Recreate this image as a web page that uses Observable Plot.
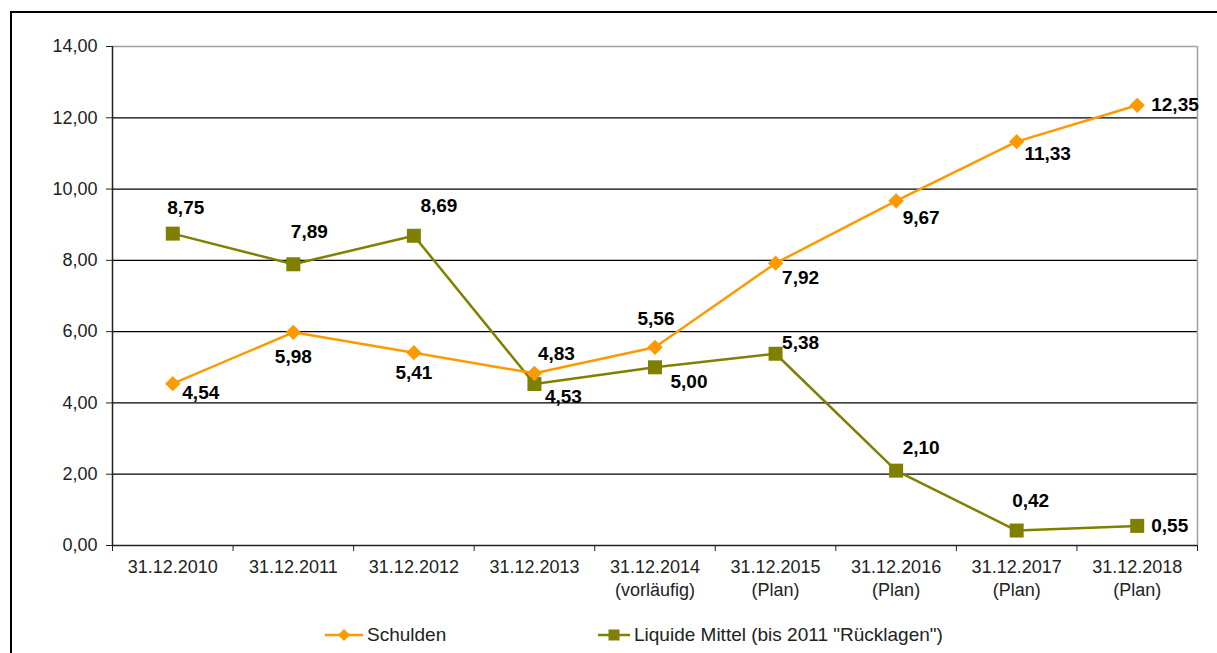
<!DOCTYPE html>
<html>
<head>
<meta charset="utf-8">
<script src="https://cdn.jsdelivr.net/npm/d3@7"></script>
<script src="https://cdn.jsdelivr.net/npm/@observablehq/plot@0.6"></script>
<style>
  html, body { margin: 0; padding: 0; background: #fff; }
  body { width: 1217px; height: 653px; position: relative; overflow: hidden; font-family: "Liberation Sans", Arial, sans-serif; }
  #frame { position: absolute; left: 10px; top: 11px; width: 1400px; height: 800px; border-left: 2px solid #000; border-top: 2px solid #000; pointer-events: none; }
  #chart { position: absolute; left: 0; top: 0; }
  #legend { position: absolute; top: 623px; left: 0; width: 1217px; height: 24px; font-size: 19px; color: #222; }
  .item { position: absolute; top: 0; display: flex; align-items: center; height: 24px; }
  .item svg { display: block; }
</style>
</head>
<body>
<div id="chart"></div>
<div id="legend"></div>
<div id="frame"></div>
<script>
const categories = [
  "31.12.2010", "31.12.2011", "31.12.2012", "31.12.2013",
  "31.12.2014\n(vorläufig)", "31.12.2015\n(Plan)", "31.12.2016\n(Plan)",
  "31.12.2017\n(Plan)", "31.12.2018\n(Plan)"
];
const schulden = [4.54, 5.98, 5.41, 4.83, 5.56, 7.92, 9.67, 11.33, 12.35];
const liquide  = [8.75, 7.89, 8.69, 4.53, 5.00, 5.38, 2.10, 0.42, 0.55];
const yTicks = [0, 2, 4, 6, 8, 10, 12, 14];
const seriesNames = ["Schulden", "Liquide Mittel (bis 2011 \"Rücklagen\")"];
const seriesColors = ["#FF9900", "#808000"];

// label placement (style only): [dx, dy, anchor]
const schuldenLabelPos = [[28,9,"middle"],[0,25,"middle"],[0,20,"middle"],[22,-19,"middle"],[1,-28,"middle"],[25,15,"middle"],[25,17,"middle"],[31,12,"middle"],[14,0,"start"]];
const liquideLabelPos  = [[13,-26,"middle"],[16,-32,"middle"],[25,-30,"middle"],[29,13,"middle"],[34,15,"middle"],[25,-11,"middle"],[25,-23,"middle"],[14,-30,"middle"],[14,0,"start"]];

const fmt = v => v.toFixed(2).replace(".", ",");
const idx = categories.map((_, i) => i);
const boundaries = [...idx.map(i => i - 0.5), categories.length - 0.5];
const gridTicks = yTicks.filter(t => t > yTicks[0] && t < yTicks[yTicks.length - 1]);
const yMax = yTicks[yTicks.length - 1];

function labels(values, pos) {
  return values.map((v, i) => Plot.text([i], {
    x: d => d, y: d => values[d], text: d => fmt(values[d]),
    dx: pos[i][0], dy: pos[i][1], textAnchor: pos[i][2],
    fontSize: 19, fontWeight: "bold", fill: "#000",
    fontFamily: "Liberation Sans, Arial, sans-serif"
  }));
}

const chart = Plot.plot({
  width: 1217,
  height: 610,
  marginLeft: 112,
  marginRight: 20,
  marginTop: 46,
  marginBottom: 65,
  style: { fontFamily: "Liberation Sans, Arial, sans-serif", background: "transparent", color: "#222" },
  x: { type: "linear", domain: [-0.5, categories.length - 0.5], axis: null },
  y: { domain: [0, yMax], axis: null },
  marks: [
    Plot.ruleY(gridTicks, { stroke: "#000", strokeWidth: 1.2 }),
    Plot.ruleY([yMax], { stroke: "#a0a0a0", strokeWidth: 1.5 }),
    Plot.ruleX([categories.length - 0.5], { stroke: "#a0a0a0", strokeWidth: 1.5 }),
    Plot.axisY({ ticks: yTicks, tickSize: 6, tickPadding: 9, tickFormat: fmt, fontSize: 18, stroke: "#222", fill: "#222", strokeWidth: 1 }),
    Plot.axisX({ ticks: boundaries, tickSize: 6, tickFormat: () => "", stroke: "#222", strokeWidth: 1 }),
    Plot.ruleX([-0.5], { stroke: "#222", strokeWidth: 1.5 }),
    Plot.ruleY([0], { stroke: "#222", strokeWidth: 1.5 }),
    Plot.text(idx, { x: d => d, text: d => categories[d], frameAnchor: "bottom", dy: 12, lineAnchor: "top", lineHeight: 1.25, fontSize: 18, fill: "#222", textAnchor: "middle" }),
    Plot.line(idx, { x: d => d, y: d => liquide[d], stroke: seriesColors[1], strokeWidth: 2.5 }),
    Plot.line(idx, { x: d => d, y: d => schulden[d], stroke: seriesColors[0], strokeWidth: 2.5 }),
    Plot.dot(idx, { x: d => d, y: d => liquide[d], symbol: "square", r: 7.9, fill: seriesColors[1], stroke: "none" }),
    Plot.dot(idx, { x: d => d, y: d => schulden[d], symbol: "diamond2", r: 6.9, fill: seriesColors[0], stroke: "none" }),
    ...labels(schulden, schuldenLabelPos),
    ...labels(liquide, liquideLabelPos)
  ]
});
document.getElementById("chart").appendChild(chart);

// Legend
const legend = document.getElementById("legend");
const legendLeft = [325, 598];
const swatchW = [38, 32];
seriesNames.forEach((name, i) => {
  const item = document.createElement("div");
  item.className = "item";
  item.style.left = legendLeft[i] + "px";
  const w = swatchW[i];
  const marker = i === 0
    ? `<path d="M${w/2},6 L${w/2+6},12 L${w/2},18 L${w/2-6},12 Z" fill="${seriesColors[i]}"/>`
    : `<rect x="${w/2-5.5}" y="6.5" width="11" height="11" fill="${seriesColors[i]}"/>`;
  item.innerHTML = `<svg width="${w}" height="24"><line x1="0" y1="12" x2="${w}" y2="12" stroke="${seriesColors[i]}" stroke-width="2.5"/>${marker}</svg><span style="margin-left:4px;white-space:pre">${name}</span>`;
  legend.appendChild(item);
});
</script>
</body>
</html>
